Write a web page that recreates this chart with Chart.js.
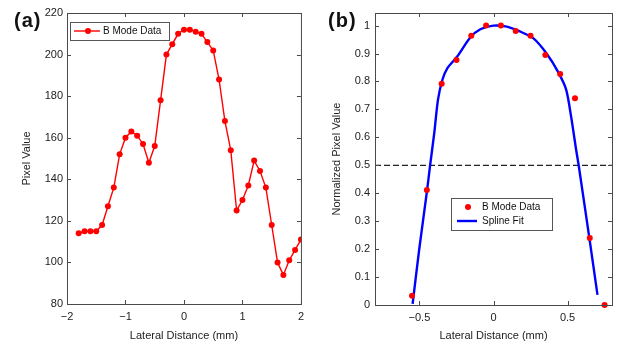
<!DOCTYPE html>
<html>
<head>
<meta charset="utf-8">
<script src="https://cdn.jsdelivr.net/npm/chart.js@4.4.0/dist/chart.umd.min.js"></script>
<style>
  body { margin: 0; background: #fff; width: 619px; height: 346px; overflow: hidden; position: relative;
         font-family: "Liberation Sans", Arial, sans-serif; }
  canvas { position: absolute; top: 0; }
  .tag { position: absolute; font-weight: bold; font-size: 20px; letter-spacing: 1px; color: #111; }
</style>
</head>
<body>
<canvas id="chartA" width="310" height="346" style="left:0"></canvas>
<canvas id="chartB" width="309" height="346" style="left:310px"></canvas>
<div class="tag" style="left:14px;top:9px">(a)</div>
<div class="tag" style="left:328px;top:9px">(b)</div>
<script>
// (a) B mode profile
const lateralA = [-1.8, -1.7, -1.6, -1.5, -1.4, -1.3, -1.2, -1.1, -1.0, -0.9, -0.8, -0.7, -0.6, -0.5, -0.4,
                  -0.3, -0.2, -0.1, 0.0, 0.1, 0.2, 0.3, 0.4, 0.5, 0.6, 0.7, 0.8, 0.9, 1.0, 1.1, 1.2, 1.3,
                  1.4, 1.5, 1.6, 1.7, 1.8, 1.9, 2.0];
const pixelValues = [114, 115, 115, 115, 118, 127, 136, 152, 160, 163, 161, 157, 148, 156, 178,
                     200, 205, 210, 212, 212, 211, 210, 206, 202, 188, 168, 154, 125, 130, 137, 149, 144,
                     136, 118, 100, 94, 101, 106, 111];

// (b) normalized profile + spline fit
const lateralB = [-0.55, -0.45, -0.35, -0.25, -0.15, -0.05, 0.05, 0.15, 0.25, 0.35, 0.45, 0.55, 0.65, 0.75];
const normValues = [0.033, 0.412, 0.792, 0.877, 0.964, 1.0, 1.0, 0.981, 0.964, 0.895, 0.827, 0.740, 0.240, 0.0];
const splineX = [-0.546, -0.502, -0.448, -0.428, -0.400, -0.375, -0.345, -0.312, -0.245, -0.156, -0.089, 0.0,
                 0.09, 0.178, 0.268, 0.357, 0.435, 0.491, 0.524, 0.558, 0.575, 0.647, 0.702];
const splineY = [0.004, 0.197, 0.412, 0.5, 0.615, 0.734, 0.806, 0.847, 0.889, 0.958, 0.987, 1.0,
                 0.996, 0.979, 0.955, 0.901, 0.835, 0.770, 0.674, 0.555, 0.5, 0.24, 0.036];
const halfMaxX = [-0.8, 0.8];
const halfMaxY = [0.5, 0.5];

const ticksXA = [-2, -1, 0, 1, 2];
const ticksXB = [-0.5, 0, 0.5];

const FONT = '"Liberation Sans", Arial, sans-serif';
const pts = (xs, ys) => xs.map((x, i) => ({x: x, y: ys[i]}));
const minus = v => String(v).replace('-', '\u2212');

// box round the plot, with ticks pointing in on all four sides
const frameTicks = {
    id: 'frameTicks',
    afterDraw(chart) {
        const {ctx, chartArea: a, scales: {x, y}} = chart;
        ctx.save();
        ctx.strokeStyle = '#4a4a4a';
        ctx.lineWidth = 1;
        ctx.strokeRect(a.left + 0.5, a.top + 0.5, a.right - a.left, a.bottom - a.top);
        ctx.beginPath();
        x.ticks.forEach(t => {
            const px = Math.round(x.getPixelForValue(t.value)) + 0.5;
            ctx.moveTo(px, a.bottom); ctx.lineTo(px, a.bottom - 4);
            ctx.moveTo(px, a.top); ctx.lineTo(px, a.top + 4);
        });
        y.ticks.forEach(t => {
            const py = Math.round(y.getPixelForValue(t.value)) + 0.5;
            ctx.moveTo(a.left, py); ctx.lineTo(a.left + 4, py);
            ctx.moveTo(a.right, py); ctx.lineTo(a.right - 4, py);
        });
        ctx.stroke();
        ctx.restore();
    }
};

// legend in a white box inside the plot
const boxLegend = {
    id: 'boxLegend',
    afterDatasetsDraw(chart, args, opts) {
        const {ctx, chartArea: a} = chart;
        const x0 = a.left + opts.dx, y0 = a.top + opts.dy;
        ctx.save();
        ctx.fillStyle = '#fff';
        ctx.fillRect(x0, y0, opts.w, opts.h);
        ctx.strokeStyle = '#555';
        ctx.lineWidth = 1;
        ctx.strokeRect(x0 + 0.5, y0 + 0.5, opts.w, opts.h);
        ctx.font = '10px ' + FONT;
        ctx.textBaseline = 'middle';
        opts.items.forEach((idx, row) => {
            const ds = chart.data.datasets[idx];
            const cy = y0 + opts.rowTop + row * opts.rowGap;
            if (ds.showLine !== false && ds.borderWidth) {
                ctx.strokeStyle = ds.borderColor;
                ctx.lineWidth = ds.borderWidth;
                ctx.beginPath();
                ctx.moveTo(x0 + opts.lineFrom, cy);
                ctx.lineTo(x0 + opts.lineTo, cy);
                ctx.stroke();
            }
            if (ds.pointRadius) {
                ctx.fillStyle = ds.pointBackgroundColor;
                ctx.beginPath();
                ctx.arc(x0 + opts.markX, cy, ds.pointRadius, 0, Math.PI * 2);
                ctx.fill();
            }
            ctx.fillStyle = '#111';
            ctx.fillText(ds.label, x0 + opts.textX, cy + 0.5);
        });
        ctx.restore();
    }
};

function axisTitle(text, pad) {
    return {display: true, text: text, color: '#222', font: {family: FONT, size: 11}, padding: pad};
}

const tickFont = {family: FONT, size: 11};

new Chart(document.getElementById('chartA').getContext('2d'), {
    type: 'scatter',
    data: {
        datasets: [{
            label: 'B Mode Data',
            data: pts(lateralA, pixelValues),
            showLine: true,
            borderColor: '#ff0000',
            borderWidth: 1.4,
            pointRadius: 3,
            pointBackgroundColor: '#ff0000',
            pointBorderWidth: 0,
            tension: 0
        }]
    },
    options: {
        responsive: false,
        animation: false,
        layout: {padding: {top: 13, right: 4, left: 0, bottom: 0}},
        plugins: {
            legend: {display: false},
            tooltip: {enabled: false},
            boxLegend: {dx: 3, dy: 9, w: 99, h: 18, rowTop: 9, rowGap: 14,
                        lineFrom: 4, lineTo: 30, markX: 18, textX: 33, items: [0]}
        },
        scales: {
            x: {
                type: 'linear', min: -2, max: 2,
                afterBuildTicks: s => { s.ticks = ticksXA.map(v => ({value: v})); },
                afterFit: s => { s.height = 42; },
                grid: {display: false, drawTicks: false},
                border: {display: false},
                ticks: {font: tickFont, color: '#222', padding: 6, maxRotation: 0, callback: minus},
                title: axisTitle('Lateral Distance (mm)', {top: 0, bottom: 3})
            },
            y: {
                min: 80, max: 220,
                afterFit: s => { s.width = 67; },
                grid: {display: false, drawTicks: false},
                border: {display: false},
                ticks: {stepSize: 20, font: tickFont, color: '#222', padding: 4},
                title: axisTitle('Pixel Value', {top: 20, bottom: 0})
            }
        }
    },
    plugins: [frameTicks, boxLegend]
});

new Chart(document.getElementById('chartB').getContext('2d'), {
    type: 'scatter',
    data: {
        datasets: [{
            label: 'B Mode Data',
            data: pts(lateralB, normValues),
            showLine: false,
            pointRadius: 3,
            pointBackgroundColor: '#ff0000',
            pointBorderWidth: 0,
            clip: false,
            order: 0
        }, {
            label: 'Spline Fit',
            data: pts(splineX, splineY),
            showLine: true,
            borderColor: '#0000ff',
            borderWidth: 2.4,
            pointRadius: 0,
            tension: 0.25,
            order: 1
        }, {
            label: 'Half maximum',
            data: pts(halfMaxX, halfMaxY),
            showLine: true,
            borderColor: '#222',
            borderWidth: 1.2,
            borderDash: [6, 3],
            pointRadius: 0,
            order: 2
        }]
    },
    options: {
        responsive: false,
        animation: false,
        layout: {padding: {top: 13, right: 7, left: 0, bottom: 0}},
        plugins: {
            legend: {display: false},
            tooltip: {enabled: false},
            boxLegend: {dx: 76, dy: 185, w: 101, h: 32, rowTop: 9, rowGap: 14,
                        lineFrom: 6, lineTo: 26, markX: 17, textX: 31, items: [0, 1]}
        },
        scales: {
            x: {
                type: 'linear', min: -0.8, max: 0.8,
                afterBuildTicks: s => { s.ticks = ticksXB.map(v => ({value: v})); },
                afterFit: s => { s.height = 41; },
                grid: {display: false, drawTicks: false},
                border: {display: false},
                ticks: {font: tickFont, color: '#222', padding: 6, maxRotation: 0, callback: minus},
                title: axisTitle('Lateral Distance (mm)', {top: 0, bottom: 3})
            },
            y: {
                min: 0, max: 1.045,
                afterFit: s => { s.width = 65; },
                grid: {display: false, drawTicks: false},
                border: {display: false},
                ticks: {stepSize: 0.1, includeBounds: false, font: tickFont, color: '#222', padding: 5,
                        callback: v => String(+v.toFixed(1))},
                title: axisTitle('Normalized Pixel Value', {top: 20, bottom: 0})
            }
        }
    },
    plugins: [frameTicks, boxLegend]
});
</script>
</body>
</html>
